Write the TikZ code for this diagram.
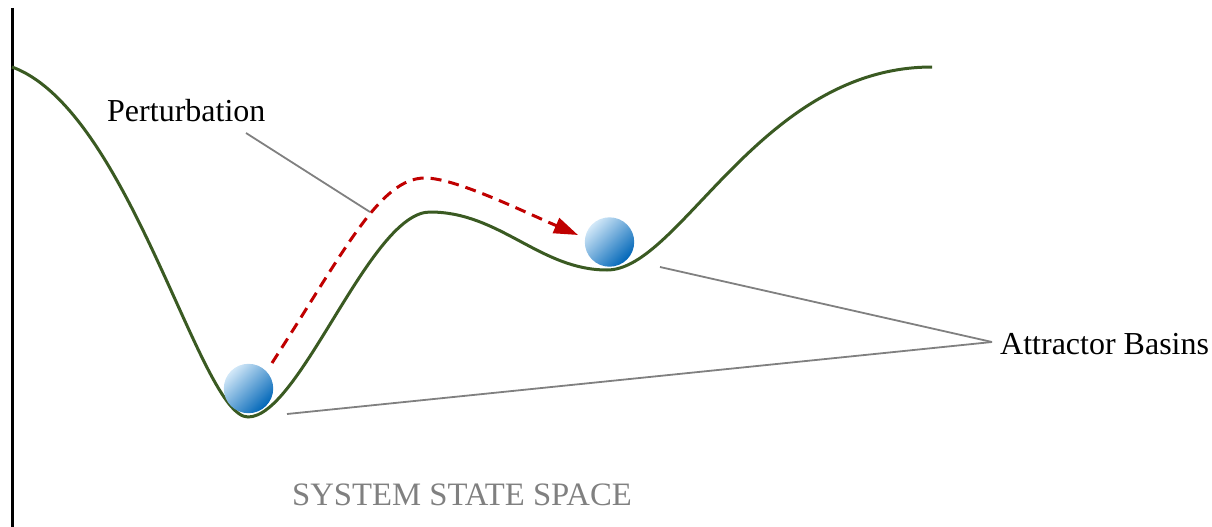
\documentclass[tikz,border=0pt]{standalone}
\usepackage{fontspec}
\setmainfont{Liberation Serif}
\usetikzlibrary{arrows.meta}
\definecolor{landgreen}{HTML}{3A5A22}
\definecolor{leadgray}{HTML}{808080}
\definecolor{pathred}{HTML}{C00000}
\definecolor{balllight}{HTML}{D2E8F8}
\definecolor{balldark}{HTML}{0066B8}
\begin{document}
\begin{tikzpicture}[x=1pt,y=-1pt,
  landscape/.style={draw=landgreen, line width=3pt},
  leader/.style={draw=leadgray, line width=1.8pt},
  axisline/.style={draw=black, line width=3pt},
  jump/.style={draw=pathred, line width=3pt, dash pattern=on 11pt off 7pt,
    -{Triangle[length=24pt,width=16pt]}},
  ball/.style={circle, minimum size=49.4pt, inner sep=0pt,
    top color=balllight, bottom color=balldark, shading angle=45},
  label/.style={inner sep=0pt, anchor=base west, font=\fontsize{32}{38}\selectfont}]
\useasboundingbox (0,0) rectangle (1212,527);
% axis
\coordinate (axtop) at (12,8);
\coordinate (axbot) at (12,527);
\draw[axisline] (axtop) -- (axbot);
% landscape
\draw[landscape] (12,67) .. controls (130,110) and (200,417) .. (248,417)
  .. controls (300,417) and (370,212) .. (430,212)
  .. controls (500,212) and (540,270) .. (607,270)
  .. controls (680,270) and (760,67) .. (932,67);
% balls
\node[ball] (ball1) at (248.5,388.5) {};
\node[ball] (ball2) at (609.5,242) {};
% perturbation path
\coordinate (jstart) at (272,363);
\coordinate (jpeak) at (425,178);
\coordinate (jend) at (578,235);
\draw[jump] (jstart) .. controls (345,250) and (380,178) .. (jpeak)
  .. controls (455,178) and (520,210) .. (jend);
% labels
\node[label] (pert) at (107,121) {Perturbation};
\node[label] (basins) at (1000,354) {Attractor Basins};
\node[label, text=leadgray, font=\fontsize{32.7}{38}\selectfont] (statespace) at (292,505) {SYSTEM STATE SPACE};
% leader lines
\coordinate (pertfoot) at (246,133);
\coordinate (perttip) at (370,212);
\draw[leader] (pertfoot) -- (perttip);
\coordinate (basinmeet) at (992,342);
\coordinate (basin2) at (660,267);
\coordinate (basin1) at (287,414);
\draw[leader] (basinmeet) -- (basin2);
\draw[leader] (basinmeet) -- (basin1);
\end{tikzpicture}
\end{document}
